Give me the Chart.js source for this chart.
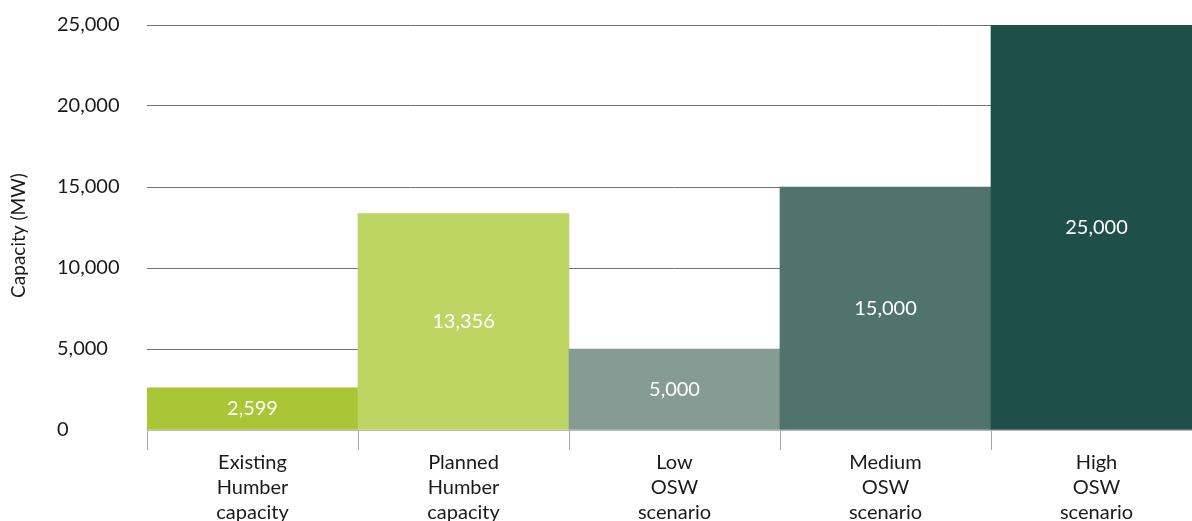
<!DOCTYPE html>
<html>
<head>
<meta charset="utf-8">
<title>Humber capacity vs OSW scenarios</title>
<script src="https://cdn.jsdelivr.net/npm/chart.js@4/dist/chart.umd.min.js"></script>
<style>
  html, body { margin: 0; padding: 0; background: #fff; overflow: hidden; }
  #wrap { width: 1202px; height: 521px; }
</style>
</head>
<body>
<div id="wrap"><canvas id="chart"></canvas></div>
<script>
/* ─── Data ───────────────────────────────────────────── */
const categories = [
  ["Existing", "Humber", "capacity"],
  ["Planned", "Humber", "capacity"],
  ["Low", "OSW", "scenario"],
  ["Medium", "OSW", "scenario"],
  ["High", "OSW", "scenario"],
];
const capacityMW = [2599, 13356, 5000, 15000, 25000];
const barColors = ["#a8c636", "#bdd563", "#869b94", "#50736b", "#1e5049"];
const yTicks = [0, 5000, 10000, 15000, 20000, 25000];
const yTitle = "Capacity (MW)";

const FONT = "Lato, 'Noto Sans', sans-serif";

/* ─── Plugins: bar values + rotated axis title ───────── */
const valueLabels = {
  id: "valueLabels",
  afterDatasetsDraw(chart) {
    const ctx = chart.ctx;
    const meta = chart.getDatasetMeta(0);
    ctx.save();
    ctx.fillStyle = "#ffffff";
    ctx.font = "20px " + FONT;
    ctx.textAlign = "center";
    ctx.textBaseline = "middle";
    meta.data.forEach((bar, i) => {
      const c = bar.getCenterPoint();
      ctx.fillText(capacityMW[i].toLocaleString("en-US"), c.x, c.y);
    });
    ctx.restore();
  },
};

const sideTitle = {
  id: "sideTitle",
  afterDraw(chart) {
    const ctx = chart.ctx;
    const a = chart.chartArea;
    ctx.save();
    ctx.translate(19, (a.top + a.bottom) / 2 + 8);
    ctx.rotate(-Math.PI / 2);
    ctx.fillStyle = "#1a1a1a";
    ctx.font = "19px " + FONT;
    ctx.textAlign = "center";
    ctx.textBaseline = "middle";
    ctx.fillText(yTitle, 0, 0);
    ctx.restore();
  },
};

/* ─── Chart ──────────────────────────────────────────── */
new Chart(document.getElementById("chart"), {
  type: "bar",
  data: {
    labels: categories,
    datasets: [
      {
        data: capacityMW,
        backgroundColor: barColors,
        borderWidth: 0,
        barPercentage: 1,
        categoryPercentage: 1,
      },
    ],
  },
  options: {
    responsive: true,
    maintainAspectRatio: false,
    animation: false,
    layout: { padding: { top: 25, left: 57, right: 0, bottom: 0 } },
    plugins: { legend: { display: false }, tooltip: { enabled: false } },
    scales: {
      x: {
        afterFit: (s) => { s.height = 91; },
        grid: {
          offset: true,
          drawOnChartArea: false,
          drawTicks: true,
          tickLength: 20,
          color: "#a6a6a6",
        },
        border: { display: true, color: "#b8b8b8", width: 1 },
        ticks: {
          color: "#1a1a1a",
          padding: 0,
          maxRotation: 0,
          autoSkip: false,
          font: { family: FONT, size: 20, lineHeight: 1.25 },
        },
      },
      y: {
        min: 0,
        max: 25000,
        afterFit: (s) => { s.width = 90; },
        afterBuildTicks: (s) => { s.ticks = yTicks.map((v) => ({ value: v })); },
        grid: { drawTicks: false, color: "#727272", lineWidth: 1 },
        border: { display: false },
        ticks: {
          color: "#1a1a1a",
          crossAlign: "far",
          padding: 0,
          font: { family: FONT, size: 20 },
          callback: (v) => Number(v).toLocaleString("en-US"),
        },
      },
    },
  },
  plugins: [valueLabels, sideTitle],
});
</script>
</body>
</html>
